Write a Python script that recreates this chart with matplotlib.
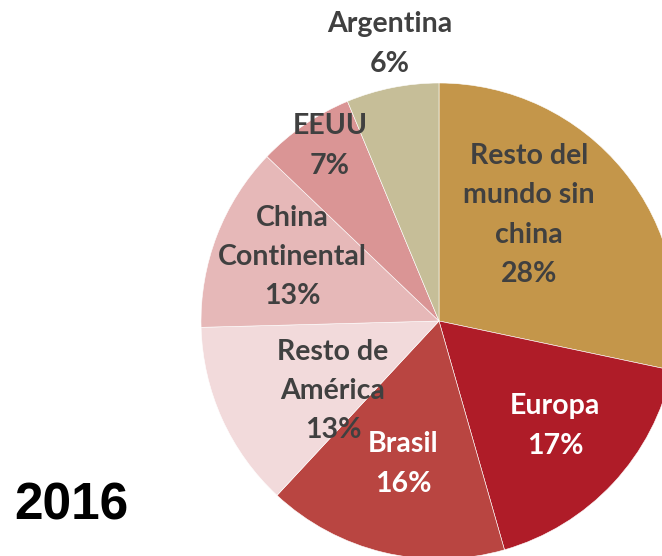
import matplotlib
matplotlib.use("Agg")
import matplotlib.pyplot as plt

# data
regions = ['Resto del\nmundo sin\nchina', 'Europa', 'Brasil', 'Resto de\nAmérica',
           'China\nContinental', 'EEUU', 'Argentina']
shares = [28.4, 17.3, 16.4, 12.7, 12.6, 6.6, 6.3]
colors = ['#C4964A', '#AF1C28', '#B94541', '#F2DADB', '#E6B8B8', '#DA9595', '#C6BE98']
text_colors = ['#404040', 'white', 'white', '#404040', '#404040', '#404040', '#404040']
# label block centres, in pixels from the top-left corner
label_pos = [(529, 215), (555, 426), (403, 464), (333, 391), (292, 257), (330, 146), (390, 44)]

W, H = 662, 556
fig = plt.figure(figsize=(W / 100, H / 100), dpi=100)
ax = fig.add_axes([0, 0, 1, 1])

ax.pie(shares, colors=colors, startangle=90, counterclock=False,
       radius=238, center=(439, H - 321),
       wedgeprops=dict(edgecolor='white', linewidth=0.4))

total = sum(shares)
for name, val, (x, y), tc in zip(regions, shares, label_pos, text_colors):
    pct = round(val / total * 100)
    ax.text(x, H - y, f"{name}\n{pct}%", ha='center', va='center',
            fontsize=20.5, fontweight='bold', color=tc, family='Lato',
            linespacing=1.63)

ax.text(14, H - 506, '2016', ha='left', va='center', fontsize=37,
        fontweight='bold', family='Liberation Sans', color='black')

ax.set_xlim(0, W)
ax.set_ylim(0, H)
ax.set_aspect('equal')
ax.axis('off')

fig.savefig("out.png", dpi=100)
